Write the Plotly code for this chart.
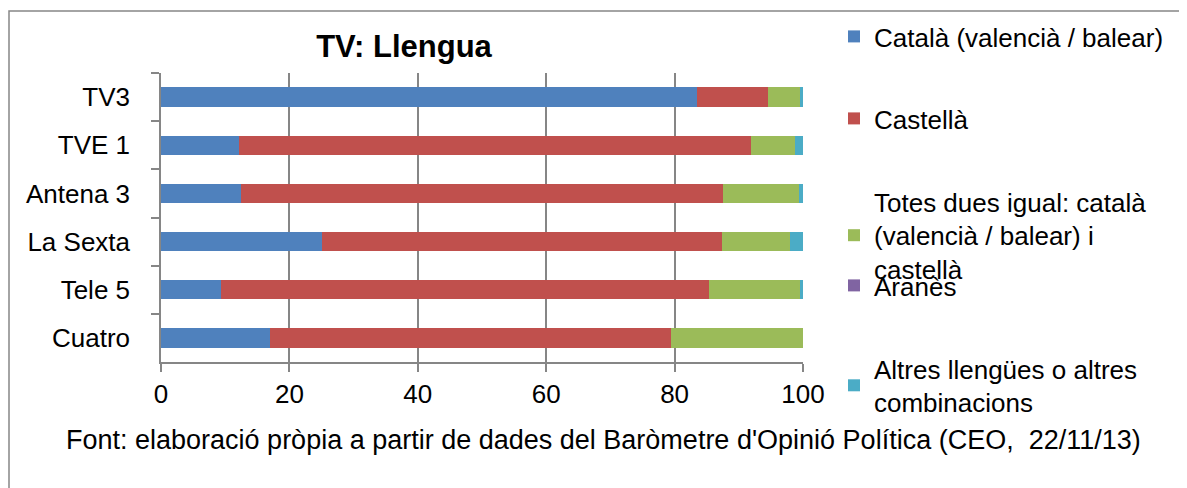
import plotly.graph_objects as go

channels = ["TV3", "TVE 1", "Antena 3", "La Sexta", "Tele 5", "Cuatro"]
series_names = [
    "Català (valencià / balear)",
    "Castellà",
    "Totes dues igual: català<br>(valencià / balear) i<br>castellà",
    "Aranès",
    "Altres llengües o altres<br>combinacions",
]
catala = [83.5, 12.1, 12.4, 25.1, 9.4, 16.9]
castella = [11.0, 79.8, 75.1, 62.3, 75.9, 62.5]
totes_dues = [5.0, 6.9, 11.8, 10.6, 14.2, 20.6]
aranes = [0.0, 0.0, 0.0, 0.0, 0.0, 0.0]
altres = [0.5, 1.2, 0.7, 2.0, 0.5, 0.0]
colors = ["#4F81BD", "#C0504D", "#9BBB59", "#8064A2", "#4BACC6"]
x_ticks = [0, 20, 40, 60, 80, 100]

FONT = "Liberation Sans, Arial, sans-serif"

OFF = 8  # page body margin
# plot area in screenshot pixels
L, R, T, B = 161, 803, 73, 362
W, H = 1187, 488

def px_x(p):
    return (p - L) / (R - L)

def px_y(p):
    return (B - p) / (B - T)

def cx(p):
    return (p - OFF) / W

def cy(p):
    return 1 - (p - OFF) / H

fig = go.Figure()
values = [catala, castella, totes_dues, aranes, altres]
legend_tops = [13, 95, 178, 262, 345]
legend_names = ["legend", "legend2", "legend3", "legend4", "legend5"]
for i, (name, vals, col) in enumerate(zip(series_names, values, colors)):
    fig.add_trace(go.Bar(
        y=channels, x=vals, name=name, orientation="h",
        marker=dict(color=col, line=dict(width=0)),
        width=0.4, legend=legend_names[i],
        hoverinfo="x+y+name",
    ))

layout_legends = {}
for i, ln in enumerate(legend_names):
    layout_legends[ln] = dict(
        x=cx(834), xanchor="left", y=cy(legend_tops[i]), yanchor="top",
        xref="container", yref="container",
        font=dict(family=FONT, size=26, color="#000000"),
        bgcolor="rgba(0,0,0,0)", borderwidth=0,
        itemwidth=30, itemclick=False, itemdoubleclick=False,
    )

fig.update_layout(
    width=W, height=H,
    margin=dict(l=L - OFF, r=W - (R - OFF), t=T - OFF, b=H - (B - OFF), pad=0,
                autoexpand=False),
    barmode="stack",
    plot_bgcolor="white", paper_bgcolor="white",
    font=dict(family=FONT, size=26, color="#000000"),
    title=dict(
        text="<b>TV: Llengua</b>", font=dict(family=FONT, size=31, color="#000000"),
        x=px_x(404), xref="paper", xanchor="center",
        y=cy(46), yref="container", yanchor="middle",
    ),
    xaxis=dict(
        range=[0, 100], tickvals=x_ticks, ticktext=[str(v) for v in x_ticks],
        showgrid=True, gridcolor="#868686", gridwidth=1.5,
        showline=True, linecolor="#868686", linewidth=1.5,
        ticks="outside", ticklen=8, tickcolor="#868686", tickwidth=1.5,
        zeroline=False, fixedrange=True,
        tickfont=dict(family=FONT, size=26, color="#000000"),
    ),
    yaxis=dict(
        categoryorder="array", categoryarray=channels, autorange="reversed",
        showgrid=False, showline=True, linecolor="#868686", linewidth=1.5,
        ticks="outside", ticklen=8, tickcolor="#868686", tickwidth=1.5,
        tickson="boundaries", ticklabelstandoff=24,
        zeroline=False, fixedrange=True,
        tickfont=dict(family=FONT, size=26, color="#000000"),
    ),
    showlegend=True,
    **layout_legends,
    shapes=[dict(
        type="rect", xref="paper", yref="paper",
        x0=px_x(9), x1=px_x(1230), y0=px_y(530), y1=px_y(11),
        line=dict(color="#868686", width=1.5), fillcolor="rgba(0,0,0,0)",
        layer="below",
    )],
    annotations=[dict(
        text="Font: elaboració pròpia a partir de dades del Baròmetre d'Opinió Política (CEO,  22/11/13)",
        xref="paper", yref="paper", x=px_x(603), y=px_y(440),
        xanchor="center", yanchor="middle", showarrow=False,
        font=dict(family=FONT, size=27, color="#000000"),
    )],
)

fig.write_html("out.html")
